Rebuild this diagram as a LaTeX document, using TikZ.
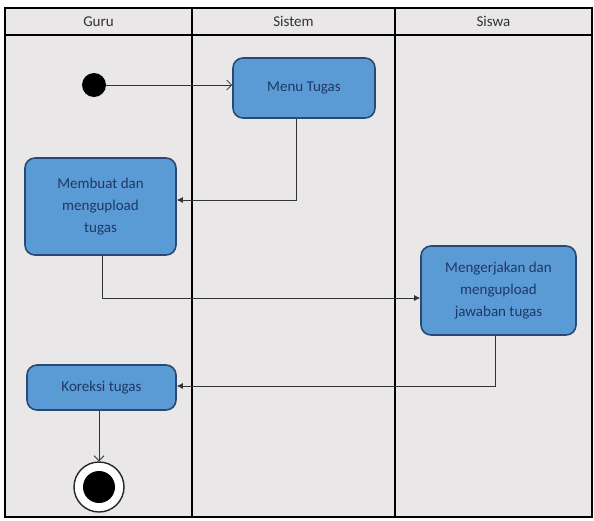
\documentclass[tikz,border=0pt]{standalone}
\usepackage{fontspec}
\setmainfont{Carlito}
\usetikzlibrary{arrows.meta,calc}
\definecolor{lanebg}{HTML}{E9E7E7}
\definecolor{actfill}{HTML}{5B9BD5}
\definecolor{actline}{HTML}{2B4A73}
\definecolor{acttext}{HTML}{1F3864}
\definecolor{headtext}{HTML}{333333}
\begin{document}
\begin{tikzpicture}[x=1pt,y=-1pt,
  act/.style={draw=actline, line width=1.6pt, fill=actfill, rounded corners=10pt,
    text=acttext, align=center, font=\fontsize{15}{22}\selectfont, inner sep=0pt},
  flow/.style={draw=black!80, line width=0.8pt},
  solidtip/.style={-{Latex[length=6pt,width=6pt]}},
  opentip/.style={-{Straight Barb[length=5pt,width=10pt]}},
  lane/.style={draw=black, line width=1.8pt},
  head/.style={text=headtext, font=\fontsize{15}{18}\selectfont}]
\useasboundingbox (0,0) rectangle (594,520);
\fill[white] (0,0) rectangle (594,520);
% swimlanes
\fill[lanebg] (5,8) rectangle (592,517);
\draw[lane] (5,8) rectangle (592,517);
\draw[lane] (5,35) -- (592,35);
\draw[lane] (192,8) -- (192,517);
\draw[lane] (395,8) -- (395,517);
\node[head] (hguru) at (98.5,21.5) {Guru};
\node[head] (hsistem) at (293.5,21.5) {Sistem};
\node[head] (hsiswa) at (493.5,21.5) {Siswa};
% activities
\node[act, minimum width=142pt, minimum height=60pt] (menu) at (304,88) {Menu Tugas};
\node[act, minimum width=151pt, minimum height=97pt] (buat) at (100.5,206.5) {Membuat dan\\mengupload\\tugas};
\node[act, minimum width=155pt, minimum height=89pt] (kerja) at (498.5,290.5) {Mengerjakan dan\\mengupload\\jawaban tugas};
\node[act, minimum width=149pt, minimum height=45pt] (koreksi) at (101.5,387.5) {Koreksi tugas};
% initial and final nodes
\node[circle, fill=black, minimum size=24pt, inner sep=0pt] (start) at (94,85) {};
\node[circle, draw=black!85, line width=1.4pt, fill=white, minimum size=50pt, inner sep=0pt] (final) at (99,487) {};
\node[circle, fill=black, minimum size=32pt, inner sep=0pt] (finaldot) at (final.center) {};
% flows
\draw[flow, opentip] (start) -- (start -| menu.west);
\draw[flow, solidtip] ($(menu.south)+(-8,0)$) |- ($(buat.east)+(0,-6.5)$);
\draw[flow, solidtip] ($(buat.south)+(1.5,0)$) |- ($(kerja.west)+(0,7.5)$);
\draw[flow, solidtip] ($(kerja.south)+(-3.5,0)$) |- ($(koreksi.east)+(0,-1.5)$);
\draw[flow, opentip] ($(koreksi.south)+(-2.5,0)$) -- (final.north);
\end{tikzpicture}
\end{document}
